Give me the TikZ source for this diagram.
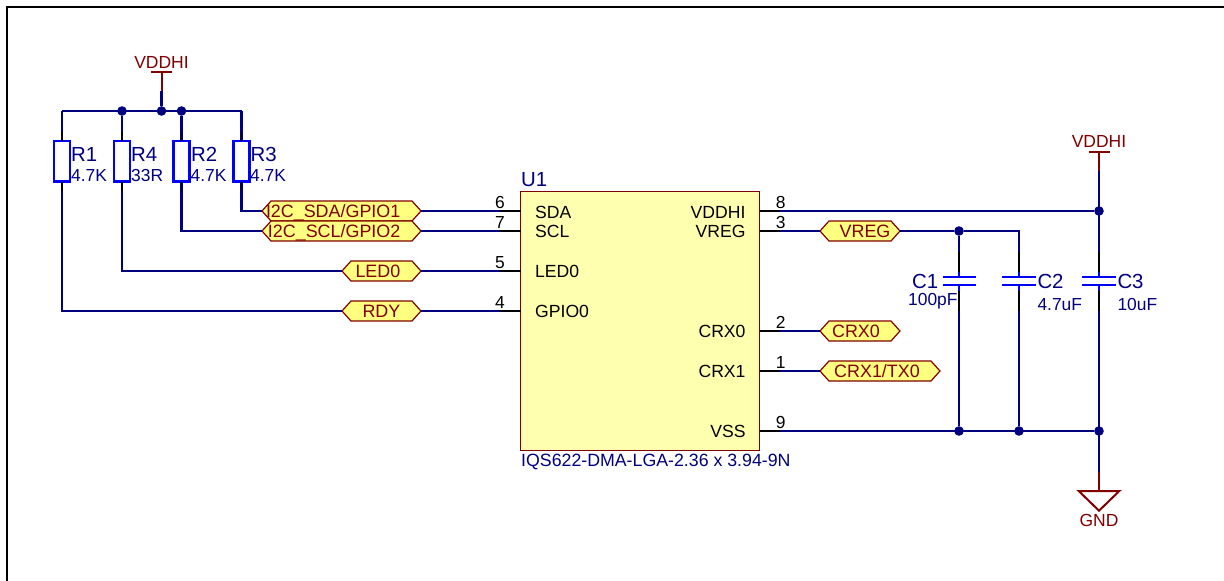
\documentclass[tikz,border=0pt]{standalone}
\usepackage{fontspec}
\setmainfont{Liberation Sans}
\usetikzlibrary{shapes.symbols}
\definecolor{wirec}{HTML}{000080}
\definecolor{partc}{HTML}{0000FF}
\definecolor{redc}{HTML}{800000}
\definecolor{boxc}{HTML}{FFFFB0}
\definecolor{hexc}{HTML}{FFFF80}
\newcommand{\fs}[1]{\fontsize{#1}{#1}\selectfont}
\tikzset{
  wire/.style={draw=wirec,line width=2.1pt},
  pinl/.style={draw=black,line width=1.9pt},
  pwr/.style={draw=redc,line width=2pt},
  body/.style={draw=partc,line width=2.2pt,fill=white,minimum width=16pt,minimum height=40.5pt,inner sep=0pt,outer sep=0pt},
  plate/.style={draw=partc,line width=2.2pt},
  dot/.style={circle,fill=wirec,draw=none,minimum size=9.6pt,inner sep=0pt,outer sep=0pt},
  hex/.style={signal,signal to=west and east,signal pointer angle=96,draw=redc,fill=hexc,line width=1.2pt,
    minimum height=20pt,inner sep=0pt,outer sep=0pt},
  lbl/.style={text=redc,inner sep=0pt,font=\fs{17.9}},
  pname/.style={text=black,inner sep=0pt,font=\fs{17.6}},
  pnum/.style={text=black,inner sep=0pt,font=\fs{17.4},anchor=base},
  ref/.style={text=wirec,inner sep=0pt,font=\fs{20.4},anchor=base west},
  val/.style={text=wirec,inner sep=0pt,font=\fs{17.4},anchor=base west},
  net/.style={text=redc,inner sep=0pt,font=\fs{17.5},anchor=base},
}
\begin{document}
\begin{tikzpicture}[x=1pt,y=-1pt]
\useasboundingbox (0,0) rectangle (1224,581);
\fill[white] (0,0) rectangle (1224,581);
% sheet frame
\coordinate (fa) at (7,581); \coordinate (fb) at (7,6.5); \coordinate (fc) at (1224,6.5);
\draw[black,line width=2pt] (fa) -- (fb) -- (fc);

% named places
\node[draw=redc,fill=boxc,line width=1.5pt,minimum width=239pt,minimum height=259pt,inner sep=0pt,outer sep=0pt] (U1) at (640,321) {};
\foreach \n/\y in {sda/211,scl/231,led/271,gpio/311}{\coordinate (\n) at (520.5,\y); \coordinate (\n p) at (500,\y);}
\foreach \n/\y in {vddhi/211,vreg/231,crxa/331,crxb/371,vss/431}{\coordinate (\n) at (759.5,\y); \coordinate (\n p) at (780,\y);}

\node[body] (R1) at (62,161.25) {};
\node[body] (R4) at (122,161.25) {};
\node[body] (R2) at (181.5,161.25) {};
\node[body] (R3) at (241.5,161.25) {};

\node[hex,minimum width=159pt] (Lsda) at (341.5,211) {};
\node[hex,minimum width=159pt] (Lscl) at (341.5,231) {};
\node[hex,minimum width=79pt] (Lled) at (381.5,271) {};
\node[hex,minimum width=79pt] (Lrdy) at (381.5,311) {};
\node[hex,minimum width=80pt] (Lvreg) at (860,231) {};
\node[hex,minimum width=80pt] (Lcrxa) at (860,331) {};
\node[hex,minimum width=120pt] (Lcrxb) at (880,371) {};

\node[dot] (j1) at (122,111) {};
\node[dot] (j2) at (161.5,111) {};
\node[dot] (j3) at (181.5,111) {};
\node[dot] (j4) at (1099,211) {};
\node[dot] (j5) at (959,231) {};
\node[dot] (j6) at (959,431) {};
\node[dot] (j7) at (1019,431) {};
\node[dot] (j8) at (1099,431) {};

\coordinate (busL) at (62,111); \coordinate (busR) at (241.5,111);
\coordinate (p1) at (161.5,71.5); \coordinate (p1w) at (161.5,91);
\coordinate (p2) at (1099,151.5); \coordinate (p2w) at (1099,171);
\coordinate (g) at (1099,491); \coordinate (gw) at (1099,471.5);
\coordinate (c2j) at (1019,231);

% left net wires
\draw[wire] (busL) -- (busR);
\draw[wire] (R1.north) -- (busL);
\draw[wire] (R4.north) -- (j1);
\draw[wire] (R2.north) -- (j3);
\draw[wire] (R3.north) -- (busR);
\draw[wire] (R3.south) |- (Lsda.west);
\draw[wire] (R2.south) |- (Lscl.west);
\draw[wire] (R4.south) |- (Lled.west);
\draw[wire] (R1.south) |- (Lrdy.west);
\draw[wire] (j2) -- (p1w);
\draw[wire] (Lsda.east) -- (sdap);
\draw[wire] (Lscl.east) -- (sclp);
\draw[wire] (Lled.east) -- (ledp);
\draw[wire] (Lrdy.east) -- (gpiop);
% right net wires
\draw[wire] (vddhip) -- (j4);
\draw[wire] (vregp) -- (Lvreg.west);
\draw[wire] (Lvreg.east) -- (j5) -- (c2j) -- (j7);
\draw[wire] (j5) -- (j6);
\draw[wire] (crxap) -- (Lcrxa.west);
\draw[wire] (crxbp) -- (Lcrxb.west);
\draw[wire] (vssp) -- (j8);
\draw[wire] (p2w) -- (gw);

% resistor leads
\foreach \r in {R1,R4,R2,R3}{
  \draw[pinl] (\r.north) -- ++(0,-9.5);
  \draw[pinl] (\r.south) -- ++(0,9.5);
}
% U1 pins
\foreach \n in {sda,scl,led,gpio,vddhi,vreg,crxa,crxb,vss}{\draw[pinl] (\n) -- (\n p);}

% capacitors
\foreach \x/\hw in {959/16.5,1019/16.8,1099/16.8}{
  \coordinate (ct) at (\x,277); \coordinate (cb) at (\x,285);
  \draw[white,line width=3pt] (ct) -- (cb);
  \draw[pinl] (\x,251.6) -- (\x,271.6);
  \draw[pinl] (\x,291.4) -- (\x,311.4);
  \draw[plate] (\x,271.6) -- (ct);
  \draw[plate] (\x,291.4) -- (cb);
  \draw[plate] (\x-\hw,277) -- (\x+\hw,277);
  \draw[plate] (\x-\hw,285) -- (\x+\hw,285);
}

% power symbols
\draw[pwr] (p1w) -- (p1);
\draw[pwr] (151,71.5) -- (172,71.5);
\draw[pwr] (p2w) -- (p2);
\draw[pwr] (1088.5,151.7) -- (1109.5,151.7);
\draw[pwr] (gw) -- (g);
\draw[pwr,line join=miter] (1078.7,491) -- (1119.3,491) -- (1099,510.7) -- cycle;

% texts
\node[net] (tv1) at (161.5,68.3) {VDDHI};
\node[net] (tv2) at (1099,147.7) {VDDHI};
\node[net] (tg) at (1099,526.7) {GND};

\node[ref] (tR1) at (71,161) {R1};
\node[val] (vR1) at (71,181.7) {4.7K};
\node[ref] (tR4) at (131,161) {R4};
\node[val] (vR4) at (131,181.7) {33R};
\node[ref] (tR2) at (191,161) {R2};
\node[val] (vR2) at (190.5,181.7) {4.7K};
\node[ref] (tR3) at (250.5,161) {R3};
\node[val] (vR3) at (250,181.7) {4.7K};

\node[ref] (tU) at (521,186.7) {U1};
\node[val,font=\fs{17.75}] (vU) at (521,466.7) {IQS622-DMA-LGA-2.36 x 3.94-9N};

\node[pname,anchor=base west] (n1) at (535,218) {SDA};
\node[pname,anchor=base west] (n2) at (535,237.7) {SCL};
\node[pname,anchor=base west] (n3) at (535,277.7) {LED0};
\node[pname,anchor=base west] (n4) at (535,317.7) {GPIO0};
\node[pname,anchor=base east] (n5) at (745.7,218) {VDDHI};
\node[pname,anchor=base east] (n6) at (745.7,237.7) {VREG};
\node[pname,anchor=base east] (n7) at (745.7,337.7) {CRX0};
\node[pname,anchor=base east] (n8) at (745.7,377.7) {CRX1};
\node[pname,anchor=base east] (n9) at (745.7,437.7) {VSS};

\node[pnum] (d6) at (500,208) {6};
\node[pnum] (d7) at (500,228) {7};
\node[pnum] (d5) at (500,268) {5};
\node[pnum] (d4) at (500,308) {4};
\node[pnum] (d8) at (780.7,208) {8};
\node[pnum] (d3) at (780.7,228) {3};
\node[pnum] (d2) at (780.7,328) {2};
\node[pnum] (d1) at (780.7,368) {1};
\node[pnum] (d9) at (780.7,428) {9};

\node[lbl,anchor=base east] (t1) at (400.5,217.7) {I2C\_SDA/GPIO1};
\node[lbl,anchor=base east] (t2) at (400.5,237.7) {I2C\_SCL/GPIO2};
\node[lbl,anchor=base east] (t3) at (400.5,277.7) {LED0};
\node[lbl,anchor=base east] (t4) at (400.5,317.7) {RDY};
\node[lbl,anchor=base] (t5) at (865,237.7) {VREG};
\node[lbl,anchor=base] (t6) at (856,337.7) {CRX0};
\node[lbl,anchor=base] (t7) at (877,377.7) {CRX1/TX0};

\node[ref] (tC1) at (912,288.3) {C1};
\node[val] (vC1) at (908,305.7) {100pF};
\node[ref] (tC2) at (1037.3,288.3) {C2};
\node[val] (vC2) at (1037.3,310) {4.7uF};
\node[ref] (tC3) at (1117.3,288.3) {C3};
\node[val] (vC3) at (1117.3,310) {10uF};
\end{tikzpicture}
\end{document}
